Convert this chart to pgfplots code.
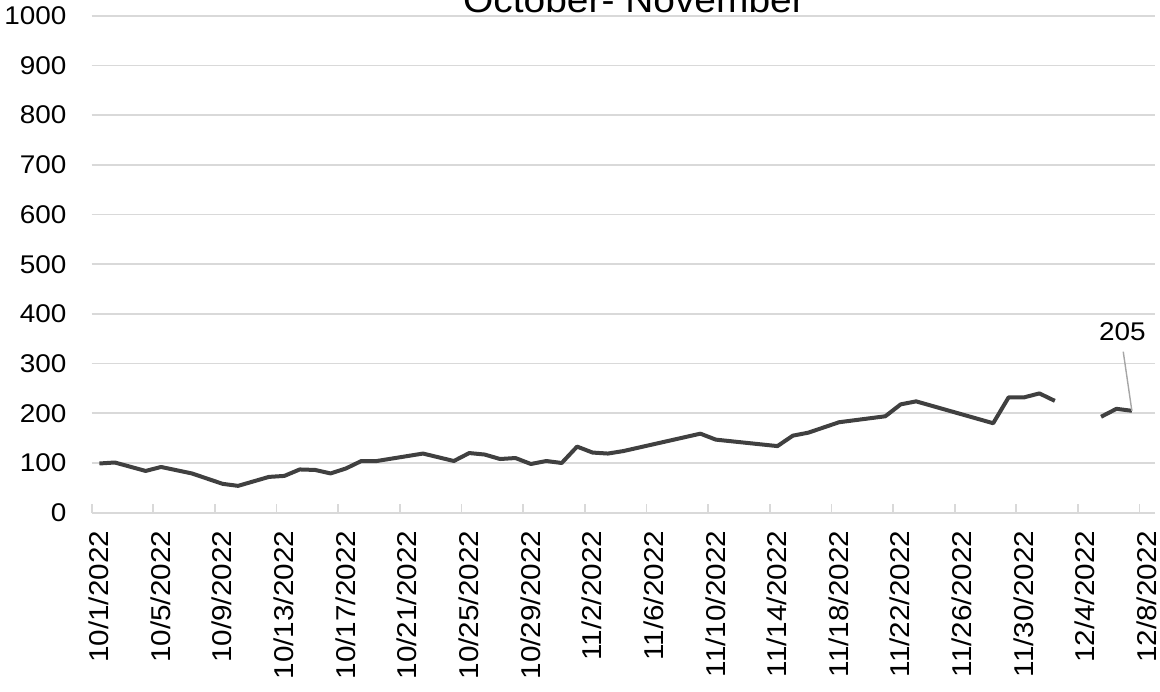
\documentclass[border=0pt]{standalone}
\usepackage{fontspec}
\setmainfont{Liberation Sans}[FakeStretch=1.09]
\usepackage{pgfplots}
\pgfplotsset{compat=1.18}
\definecolor{gridgray}{HTML}{D9D9D9}
\definecolor{linegray}{HTML}{404040}
\definecolor{leadgray}{HTML}{A6A6A6}

% day index from 10/1/2022 (0) ; points sit in the middle of their day
\pgfplotstableread{
x     y
0.5   99
1.5   101
3.5   84
4.5   92
6.5   79
8.5   58
9.5   54
11.5  72
12.5  74
13.5  87
14.5  86
15.5  79
16.5  89
17.5  104
18.5  104
21.5  119
23.5  104
24.5  120
25.5  117
26.5  108
27.5  110
28.5  98
29.5  104
30.5  100
31.5  133
32.5  121
33.5  119
34.5  124
39.5  159
40.5  147
44.5  134
45.5  155
46.5  161
48.5  182
51.5  194
52.5  218
53.5  224
58.5  180
59.5  232
60.5  232
61.5  240
62.5  225
63.5  nan
65.5  193
66.5  209
67.5  205
}\counts

\begin{document}
\begin{tikzpicture}
\begin{axis}[
    at={(91.7pt,179.3pt)}, anchor=south west,
    scale only axis,
    width=1063.3pt, height=497pt,
    xmin=0, xmax=69, ymin=0, ymax=1000,
    axis x line*=bottom, axis y line*=left,
    axis line style={-},
    y axis line style={draw=none},
    x axis line style={draw=gridgray, line width=2pt},
    ytick={0,100,...,1000},
    ytick style={draw=none},
    ymajorgrids,
    major grid style={draw=gridgray, line width=1.7pt},
    xtick={0,4,...,68},
    xticklabels={10/1/2022,10/5/2022,10/9/2022,10/13/2022,10/17/2022,
        10/21/2022,10/25/2022,10/29/2022,11/2/2022,11/6/2022,11/10/2022,
        11/14/2022,11/18/2022,11/22/2022,11/26/2022,11/30/2022,12/4/2022,12/8/2022},
    tick align=inside,
    major tick length=9pt,
    xtick style={draw=gridgray, line width=1.7pt},
    /pgf/number format/assume math mode=true,
    /pgf/number format/1000 sep={},
    yticklabel style={font=\fontsize{25.6pt}{28pt}\selectfont, inner xsep=0pt, xshift=-25pt},
    xticklabel style={xshift=-3pt, font=\fontsize{27.2pt}{30pt}\selectfont, rotate=90,
        anchor=north east, inner ysep=0pt, inner xsep=18pt},
    unbounded coords=jump,
    clip=false,
]
\addplot[linegray, line width=4pt, line join=round] table[x=x, y=y] {\counts};
\draw[leadgray, line width=1.4pt] (axis cs:67.5,205) -- (axis cs:66.94,324);
\node[font=\fontsize{25.6pt}{28pt}\selectfont, anchor=center, inner sep=0pt]
    at (axis cs:66.88,365) {205};
\end{axis}
\node[font=\fontsize{35.7pt}{40pt}\selectfont, anchor=base, inner sep=0pt]
    at (634pt,679.3pt) {October- November};
\pgfresetboundingbox
\useasboundingbox (0pt,0pt) rectangle (1160pt,692pt);
\end{tikzpicture}
\end{document}
